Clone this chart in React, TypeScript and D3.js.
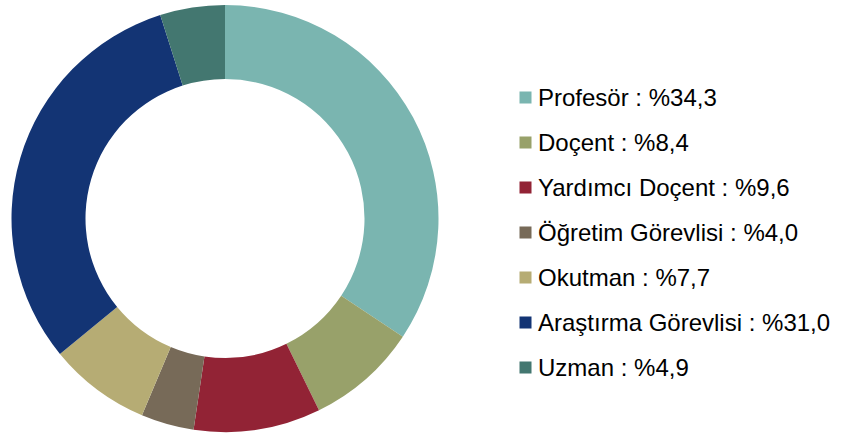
import { arc, pie, PieArcDatum } from "d3";

const categories = [
  "Profesör",
  "Doçent",
  "Yardımcı Doçent",
  "Öğretim Görevlisi",
  "Okutman",
  "Araştırma Görevlisi",
  "Uzman",
];
const shares = [34.3, 8.4, 9.6, 4.0, 7.7, 31.0, 4.9];
const colors = ["#7ab5b0", "#98a16a", "#922335", "#776a58", "#b6ac74", "#133474", "#437770"];

type Row = { category: string; share: number; color: string };
const rows: Row[] = categories.map((category, i) => ({
  category,
  share: shares[i],
  color: colors[i],
}));

const fmt = (v: number) => "%" + v.toFixed(1).replace(".", ",");

export default function App() {
  const width = 851;
  const height = 437;
  const cx = 225;
  const cy = 218.5;
  const outer = 213.5;
  const inner = 139.5;

  const slices = pie<Row>()
    .sort(null)
    .value((d) => d.share)
    .startAngle(0)
    .endAngle(2 * Math.PI)(rows);

  const sliceArc = arc<PieArcDatum<Row>>().innerRadius(inner).outerRadius(outer);

  const legendX = 519.5;
  const firstBaseline = 105.5;
  const rowStep = 45;

  return (
    <svg
      width={width}
      height={height}
      style={{ position: "absolute", left: 0, top: 0, background: "#fff" }}
    >
      <g transform={`translate(${cx}, ${cy})`}>
        {slices.map((s) => (
          <path key={s.data.category} d={sliceArc(s) ?? ""} fill={s.data.color} />
        ))}
      </g>
      <g fontFamily="'Liberation Sans', Arial, sans-serif" fontSize={24} fill="#000">
        {rows.map((r, i) => {
          const y = firstBaseline + i * rowStep;
          return (
            <g key={r.category}>
              <rect x={legendX} y={y - 14} width={12} height={12} fill={r.color} />
              <text x={538} y={y}>
                {r.category} : {fmt(r.share)}
              </text>
            </g>
          );
        })}
      </g>
    </svg>
  );
}
